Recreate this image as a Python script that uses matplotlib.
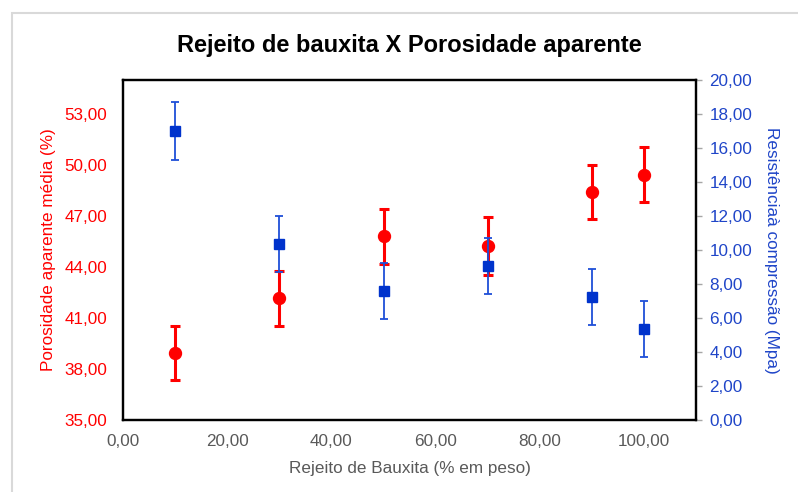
import matplotlib.pyplot as plt
from matplotlib.patches import Rectangle
from matplotlib.ticker import FuncFormatter, MultipleLocator

plt.rcParams['font.family'] = ['Liberation Sans', 'DejaVu Sans']

# Data
rejeito = [10, 30, 50, 70, 90, 100]  # % em peso
porosidade = [38.95, 42.15, 45.8, 45.23, 48.4, 49.43]
porosidade_err = [1.6, 1.6, 1.6, 1.7, 1.6, 1.6]
resistencia = [17.0, 10.35, 7.6, 9.05, 7.25, 5.37]
resistencia_err = [1.68, 1.65, 1.65, 1.64, 1.64, 1.66]
porosidade_ticks = [35, 38, 41, 44, 47, 50, 53]

red = '#FF0000'
blue = '#0033CC'
blue_text = '#1F45C8'
gray_text = '#595959'

def virgula(v, pos):
    return f"{v:.2f}".replace('.', ',')

fig = plt.figure(figsize=(7.98, 4.92), dpi=100)
ax = fig.add_axes([0.1538, 0.1463, 0.7190, 0.6911])
ax2 = ax.twinx()

# outer chart border
fig.patches.append(Rectangle((12 / 798, -0.05), 1.0, (492 - 13) / 492 + 0.05,
                             transform=fig.transFigure, fill=False,
                             edgecolor='#D9D9D9', linewidth=1.5))

ax.errorbar(rejeito, porosidade, yerr=porosidade_err, fmt='o', color=red,
            markersize=8.6, elinewidth=2.2, capsize=3.8, capthick=2.2)
ax2.errorbar(rejeito, resistencia, yerr=resistencia_err, fmt='s', color=blue,
             markersize=7.3, elinewidth=1.3, capsize=3.2, capthick=1.3,
             ecolor='#1F4FD8')

ax.set_xlim(0, 110)
ax.set_ylim(35, 55)
ax2.set_ylim(0, 20)
ax.xaxis.set_major_locator(MultipleLocator(20))
ax.set_yticks(porosidade_ticks)
ax2.yaxis.set_major_locator(MultipleLocator(2))
for a in (ax.xaxis, ax.yaxis, ax2.yaxis):
    a.set_major_formatter(FuncFormatter(virgula))

ax.tick_params(axis='x', length=0, pad=10, labelsize=12.3, labelcolor=gray_text)
ax.tick_params(axis='y', length=0, pad=11, labelsize=12.3, labelcolor=red)
ax2.tick_params(axis='y', length=4.3, width=1, color='#A6A6A6', pad=5,
                labelsize=12.3, labelcolor=blue_text)

for a in (ax, ax2):
    for s in a.spines.values():
        s.set_linewidth(1.6)
        s.set_color('black')

ax.set_title('Rejeito de bauxita X Porosidade aparente', fontsize=17,
             fontweight='bold', pad=20)
ax.set_xlabel('Rejeito de Bauxita (% em peso)', fontsize=12.3,
              color=gray_text, labelpad=9)
ax.set_ylabel('Porosidade aparente média (%)', fontsize=12.3, color=red,
              labelpad=6)
ax2.set_ylabel('Resistênciaà compressão (Mpa)', fontsize=12.3,
               color=blue_text, rotation=-90, labelpad=19)

fig.savefig('out.png', dpi=100)
